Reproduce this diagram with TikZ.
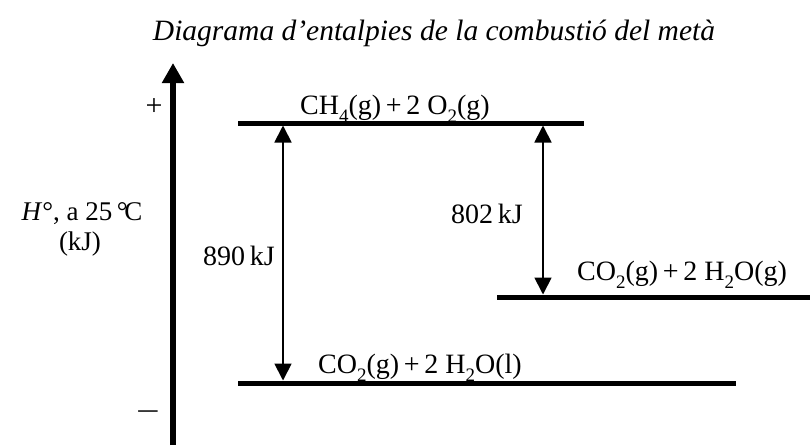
\documentclass[tikz,border=0pt]{standalone}
\usepackage{fontspec}
\setmainfont{Liberation Serif}
\usetikzlibrary{arrows.meta}
\newcommand\chsub[1]{\raisebox{-0.3em}{\fontsize{19}{19}\selectfont #1}}
\begin{document}
\begin{tikzpicture}[x=1pt,y=-1pt,
  lbl/.style={inner sep=0pt,anchor=base west,font=\fontsize{28}{32}\selectfont},
  sign/.style={inner sep=0pt,font=\fontsize{30}{32}\selectfont},
  level/.style={line width=5pt},
  axis/.style={line width=6pt,-{Triangle[width=21pt,length=20pt]}},
  dh/.style={line width=1.8pt,{Triangle[width=17pt,length=17pt]}-{Triangle[width=17pt,length=17pt]},shorten <=2.5pt,shorten >=2.5pt}]
\useasboundingbox (0,0) rectangle (810,445);
% title
\node (title) at (434,40) [anchor=base,inner sep=0pt,font=\fontsize{29.5}{32}\selectfont\itshape] {Diagrama d’entalpies de la combustió del metà};
% axis
\coordinate (ax0) at (173,445);
\coordinate (ax1) at (173,63);
\draw[axis] (ax0) -- (ax1);
\node[sign] (plus) at (154,107) {+};
\node[sign] (minus) at (148,416) {\scalebox{1.4}[1]{−}};
\node (hlab) at (82,220) [anchor=base,inner sep=0pt,font=\fontsize{27}{32}\selectfont] {\textit{H}°, a 25\,°\kern-0.12emC};
\node (kj) at (80,250) [anchor=base,inner sep=0pt,font=\fontsize{27}{32}\selectfont] {(kJ)};
% levels
\coordinate (aL) at (238,123); \coordinate (aR) at (584,123);
\coordinate (bL) at (497,297); \coordinate (bR) at (810,297);
\coordinate (cL) at (238,383); \coordinate (cR) at (736,383);
\draw[level] (aL) -- (aR);
\draw[level] (bL) -- (bR);
\draw[level] (cL) -- (cR);
\node[lbl] (la) at (300,114) {CH\chsub{4}(g)\,+\,2 O\chsub{2}(g)};
\node[lbl] (lb) at (577,280) {CO\chsub{2}(g)\,+\,2 H\chsub{2}O(g)};
\node[lbl] (lc) at (318,373) {CO\chsub{2}(g)\,+\,2 H\chsub{2}O(l)};
% enthalpy arrows
\coordinate (d1t) at (283,123); \coordinate (d1b) at (283,383);
\coordinate (d2t) at (543,123); \coordinate (d2b) at (543,297);
\draw[dh] (d1t) -- (d1b);
\draw[dh] (d2t) -- (d2b);
\node[lbl] (e1) at (203,265) {890\,kJ};
\node[lbl] (e2) at (451,223) {802\,kJ};
\end{tikzpicture}
\end{document}
